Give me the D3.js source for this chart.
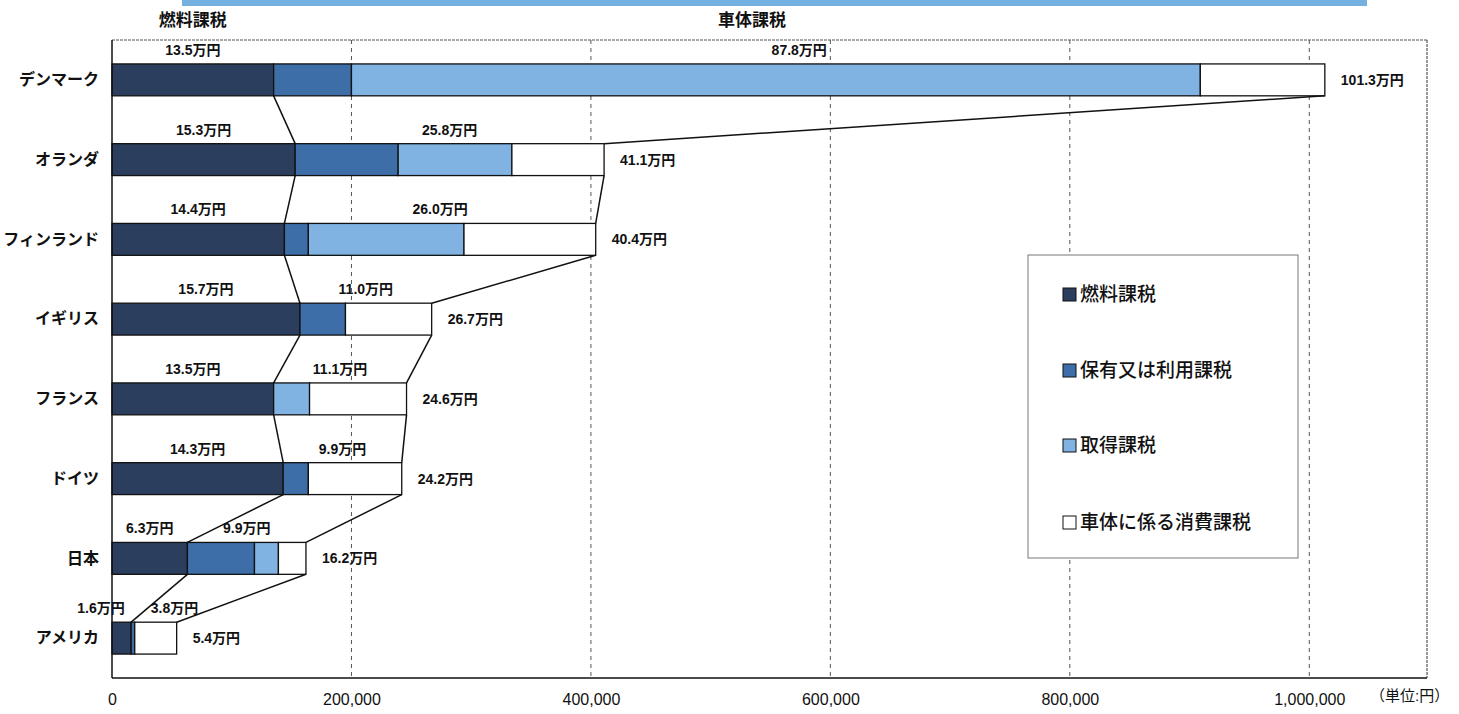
<!DOCTYPE html>
<html><head><meta charset="utf-8">
<script src="https://cdn.jsdelivr.net/npm/d3@7/dist/d3.min.js"></script>
<style>
html,body{margin:0;padding:0;background:#fff;}
svg{display:block;}
text{font-family:"Liberation Sans","Noto Sans CJK JP",sans-serif;}
</style></head>
<body>
<svg id="chart" width="1459" height="714"></svg>
<script>
// ---- data ----
const countries = ["デンマーク","オランダ","フィンランド","イギリス","フランス","ドイツ","日本","アメリカ"];
const fuelTax        = [135000,153000,144000,157000,135000,143000, 63000,16000];
const ownershipTax   = [ 65000, 86000, 20000, 38000,     0, 21000, 56000, 3000];
const acquisitionTax = [709000, 95000,130000,     0, 30000,     0, 20000,    0];
const consumptionTax = [104000, 77000,110000, 72000, 81000, 78000, 23000,35000];
const fuelLabels    = ["13.5万円","15.3万円","14.4万円","15.7万円","13.5万円","14.3万円","6.3万円","1.6万円"];
const vehicleLabels = ["87.8万円","25.8万円","26.0万円","11.0万円","11.1万円","9.9万円","9.9万円","3.8万円"];
const totalLabels   = ["101.3万円","41.1万円","40.4万円","26.7万円","24.6万円","24.2万円","16.2万円","5.4万円"];
const seriesNames = ["燃料課税","保有又は利用課税","取得課税","車体に係る消費課税"];
const seriesKeys  = ["fuel","own","acq","cons"];
const xTicks = [0,200000,400000,600000,800000,1000000];
const headerFuel = "燃料課税";
const headerVehicle = "車体課税";
const unitLabel = "（単位:円）";

(function(){
// ---- style ----
const colors = {fuel:"#2b3e5e", own:"#3d6ea8", acq:"#80b2e2", cons:"#ffffff"};
const svg = d3.select("#chart");
const pL = 112, pR = 1427, pT = 40, pB = 678;

const rows = countries.map((c,i)=>({country:c, fuel:fuelTax[i], own:ownershipTax[i], acq:acquisitionTax[i], cons:consumptionTax[i]}));
const stacked = d3.stack().keys(seriesKeys)(rows);

const x = d3.scaleLinear().domain([0,1100000]).range([pL,1429]);
const y = d3.scaleBand().domain(countries).range([pT,pB]).paddingInner(0.6).paddingOuter(0.3);
const bw = y.bandwidth();

// top decorative strip
svg.append("rect").attr("x",182).attr("y",0).attr("width",1185).attr("height",6).attr("fill","#74b1e0");

// gridlines
svg.append("g").selectAll("line").data(xTicks.filter(d=>d>0)).join("line")
  .attr("x1",d=>x(d)).attr("x2",d=>x(d)).attr("y1",pT).attr("y2",pB)
  .attr("stroke","#555").attr("stroke-width",1).attr("stroke-dasharray","4,4");

// frame
svg.append("line").attr("x1",pL).attr("x2",pR).attr("y1",pT).attr("y2",pT)
  .attr("stroke","#555").attr("stroke-width",1).attr("stroke-dasharray","3,1");
svg.append("line").attr("x1",pR).attr("x2",pR).attr("y1",pT).attr("y2",pB)
  .attr("stroke","#555").attr("stroke-width",1.2).attr("stroke-dasharray","3,1");

// bars
svg.append("g").selectAll("g").data(stacked).join("g")
  .attr("fill",d=>colors[d.key])
  .selectAll("rect").data(d=>d.filter(s=>s[1]>s[0])).join("rect")
  .attr("x",d=>x(d[0])).attr("width",d=>x(d[1])-x(d[0]))
  .attr("y",d=>y(d.data.country)).attr("height",bw)
  .attr("stroke","#111").attr("stroke-width",1.3);

// connecting lines
const fuelEnd = rows.map(r=>x(r.fuel));
const totEnd = rows.map(r=>x(r.fuel+r.own+r.acq+r.cons));
const conn = svg.append("g").attr("stroke","#111").attr("stroke-width",1.5);
for(let i=0;i<rows.length-1;i++){
  const y1 = y(countries[i])+bw, y2 = y(countries[i+1]);
  conn.append("line").attr("x1",fuelEnd[i]).attr("y1",y1).attr("x2",fuelEnd[i+1]).attr("y2",y2);
  conn.append("line").attr("x1",totEnd[i]).attr("y1",y1).attr("x2",totEnd[i+1]).attr("y2",y2);
}

// axes lines
svg.append("line").attr("x1",pL).attr("x2",pL).attr("y1",pT).attr("y2",pB).attr("stroke","#111").attr("stroke-width",1.5);
svg.append("line").attr("x1",pL).attr("x2",pR).attr("y1",pB).attr("y2",pB).attr("stroke","#111").attr("stroke-width",1.5);

// x axis labels
const xa = svg.append("g").attr("transform",`translate(0,${pB})`)
  .call(d3.axisBottom(x).tickValues(xTicks).tickSize(0).tickPadding(16).tickFormat(d3.format(",")));
xa.select(".domain").remove();
xa.selectAll("text").attr("font-size",16).attr("fill","#111")
  .style("font-family",'"Liberation Sans","Noto Sans CJK JP",sans-serif');

svg.append("text").attr("x",1370).attr("y",701).attr("font-size",15).attr("fill","#111").text(unitLabel);

// country labels
const ya = svg.append("g").attr("transform",`translate(${pL},0)`)
  .call(d3.axisLeft(y).tickSize(0).tickPadding(13));
ya.select(".domain").remove();
ya.selectAll("text").attr("font-size",16).attr("font-weight","bold").attr("fill","#111")
  .style("font-family",'"Noto Sans CJK JP",sans-serif');

// value labels
const lab = svg.append("g").attr("font-size",14).attr("font-weight","bold").attr("fill","#111");
rows.forEach((r,i)=>{
  const bt = y(r.country);
  let cf = (x(0)+fuelEnd[i])/2, cv = (fuelEnd[i]+totEnd[i])/2;
  const tf = lab.append("text").attr("text-anchor","middle").attr("y",bt-9).text(fuelLabels[i]);
  const tv = lab.append("text").attr("text-anchor","middle").attr("y",bt-9).text(vehicleLabels[i]);
  const wf = tf.node().getComputedTextLength(), wv = tv.node().getComputedTextLength();
  const need = wf/2 + wv/2 + 26;
  if(cv-cf < need){ const s=(need-(cv-cf))/2; cf-=s; cv+=s; }
  tf.attr("x",cf); tv.attr("x",cv);
  lab.append("text").attr("x",totEnd[i]+16).attr("y",bt+bw/2+5).text(totalLabels[i]);
});

// headers
svg.append("text").attr("x",(x(0)+fuelEnd[0])/2).attr("y",26).attr("text-anchor","middle")
  .attr("font-size",17).attr("font-weight","bold").attr("fill","#111").text(headerFuel);
svg.append("text").attr("x",752).attr("y",26).attr("text-anchor","middle")
  .attr("font-size",17).attr("font-weight","bold").attr("fill","#111").text(headerVehicle);

// legend
const lg = svg.append("g").attr("transform","translate(1028,255)");
lg.append("rect").attr("width",270).attr("height",303).attr("fill","#fff").attr("stroke","#777").attr("stroke-width",1);
const ly = [39,115,190,267];
seriesKeys.forEach((k,i)=>{
  lg.append("rect").attr("x",35).attr("y",ly[i]-6).attr("width",13).attr("height",13)
    .attr("fill",colors[k]).attr("stroke","#111").attr("stroke-width",1);
  lg.append("text").attr("x",52).attr("y",ly[i]+7).attr("font-size",19).attr("font-weight",500)
    .attr("fill","#111").style("font-family",'"Noto Sans CJK JP",sans-serif').text(seriesNames[i]);
});
})();
</script>
</body></html>
